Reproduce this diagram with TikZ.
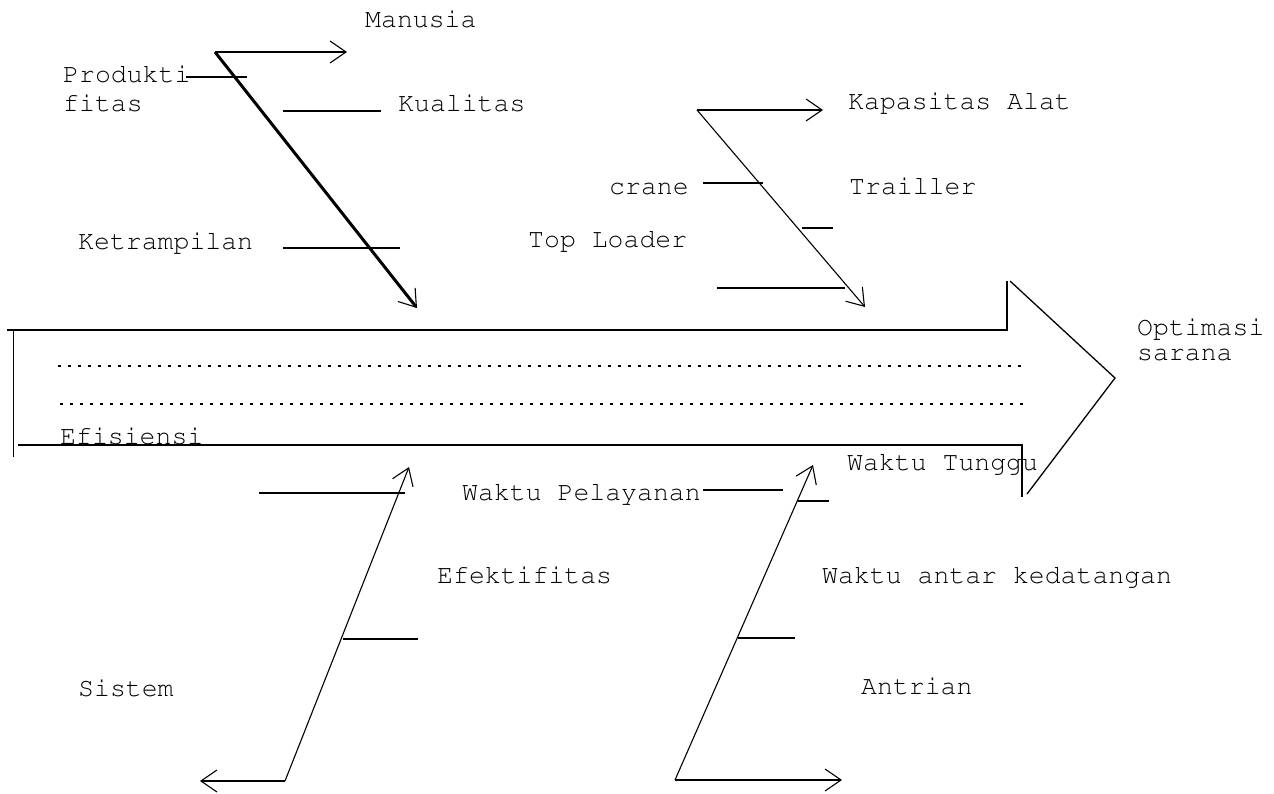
\documentclass[tikz,border=0pt]{standalone}
\usepackage[T1]{fontenc}
\usepackage{courier}
\usetikzlibrary{arrows.meta}
\begin{document}
\begin{tikzpicture}[x=1pt,y=-1pt,
  lbl/.style={anchor=base west, inner sep=0pt, font=\ttfamily\fontsize{26.5}{23}\selectfont},
  bone/.style={line width=1.1pt},
  heavybone/.style={line width=3pt},
  twig/.style={line width=1.1pt},
  heavytwig/.style={line width=2.4pt},
  tip/.style={-{Straight Barb[length=16pt,width=22pt,line width=1.1pt]}},
  body/.style={line width=1.3pt},
  guide/.style={line width=2pt, dash pattern=on 2.5pt off 7.5pt}]
\useasboundingbox (0,0) rectangle (1274,794);

% ---------- labels (multi-line nodes sit on their last baseline) ----------
\node[lbl] (manusia)     at (365,28)  {Manusia};
\node[lbl, align=left] (produktifitas) at (63,112) {Produkti\\[6pt]fitas};
\node[lbl] (kualitas)    at (398,112) {Kualitas};
\node[lbl] (ketrampilan) at (78,250)  {Ketrampilan};
\node[lbl] (kapasitas)   at (848,110) {Kapasitas Alat};
\node[lbl] (crane)       at (609,195) {crane};
\node[lbl] (trailler)    at (849,195) {Trailler};
\node[lbl] (toploader)   at (528,248) {Top Loader};
\node[lbl, align=left] (optimasi) at (1137,360) {Optimasi\\[1.5pt]sarana};
\node[lbl] (efisiensi)   at (60,444)  {Efisiensi};
\node[lbl] (tunggu)      at (847,470) {Waktu Tunggu};
\node[lbl] (pelayanan)   at (462,500) {Waktu Pelayanan};
\node[lbl] (efektifitas) at (437,583) {Efektifitas};
\node[lbl] (kedatangan)  at (822,583) {Waktu antar kedatangan};
\node[lbl] (sistem)      at (78,696)  {Sistem};
\node[lbl] (antrian)     at (861,694) {Antrian};

% ---------- main arrow (effect) ----------
\coordinate (bodyTL) at (7,330);
\coordinate (bodyTR) at (1007,330);
\coordinate (headT)  at (1007,281);
\coordinate (headT2) at (1010,281);
\coordinate (headTip) at (1115,378);
\coordinate (headB)  at (1027,494);
\coordinate (neckB)  at (1022,497);
\coordinate (bodyBR) at (1022,445);
\coordinate (bodyBL) at (18,445);
\coordinate (tailT)  at (13,330);
\coordinate (tailB)  at (13,457);
\draw[body] (bodyTL) -- (bodyTR) -- (headT);
\draw[body] (headT2) -- (headTip) -- (headB);
\draw[body] (neckB) -- (bodyBR) -- (bodyBL);
\draw[line width=0.9pt] (tailT) -- (tailB);
\coordinate (g1a) at (58,366);  \coordinate (g1b) at (1028,366);
\coordinate (g2a) at (60,404);  \coordinate (g2b) at (1028,404);
\draw[guide] (g1a) -- (g1b);
\draw[guide] (g2a) -- (g2b);

% ---------- Manusia ----------
\coordinate (m0) at (215,52);
\coordinate (m1) at (417,308);
\coordinate (mh) at (347,52);
\draw[heavybone,tip] (m0) -- (m1);
\draw[bone,tip] (m0) -- (mh);
\coordinate (pa) at (186,77);  \coordinate (pb) at (247,77);
\coordinate (ka) at (283,111); \coordinate (kb) at (381,111);
\coordinate (ta) at (283,248); \coordinate (tb) at (400,248);
\draw[heavytwig] (pa) -- (pb);
\draw[twig] (ka) -- (kb);
\draw[heavytwig] (ta) -- (tb);

% ---------- Kapasitas Alat ----------
\coordinate (a0) at (697,110);
\coordinate (a1) at (865,307);
\coordinate (ah) at (823,110);
\draw[bone,tip] (a0) -- (a1);
\draw[bone,tip] (a0) -- (ah);
\coordinate (ca) at (703,183); \coordinate (cb) at (763,183);
\coordinate (ra) at (802,228); \coordinate (rb) at (833,228);
\coordinate (la) at (717,288); \coordinate (lb) at (845,288);
\draw[heavytwig] (ca) -- (cb);
\draw[twig] (ra) -- (rb);
\draw[twig] (la) -- (lb);

% ---------- Sistem ----------
\coordinate (s0) at (285,781);
\coordinate (s1) at (409,467);
\coordinate (sh) at (200,781);
\draw[bone,tip] (s0) -- (s1);
\draw[bone,tip] (s0) -- (sh);
\coordinate (sa) at (259,493); \coordinate (sb) at (405,493);
\coordinate (sc) at (343,639); \coordinate (sd) at (418,639);
\draw[twig] (sa) -- (sb);
\draw[twig] (sc) -- (sd);

% ---------- Antrian ----------
\coordinate (q0) at (675,780);
\coordinate (q1) at (813,465);
\coordinate (qh) at (842,780);
\draw[bone,tip] (q0) -- (q1);
\draw[bone,tip] (q0) -- (qh);
\coordinate (wa) at (703,490); \coordinate (wb) at (783,490);
\coordinate (ua) at (798,501); \coordinate (ub) at (829,501);
\coordinate (xa) at (738,638); \coordinate (xb) at (795,638);
\draw[heavytwig] (wa) -- (wb);
\draw[twig] (ua) -- (ub);
\draw[twig] (xa) -- (xb);
\end{tikzpicture}
\end{document}
